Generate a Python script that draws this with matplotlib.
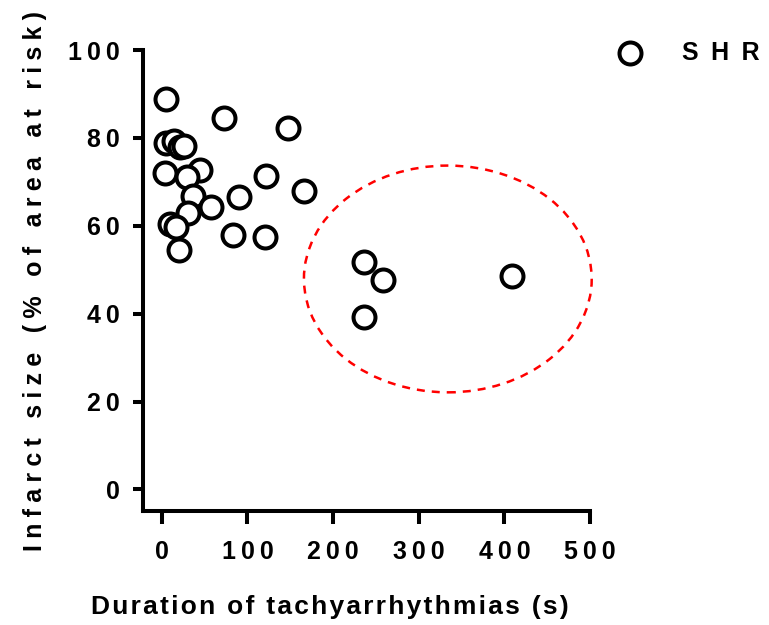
import matplotlib
matplotlib.use("Agg")
import matplotlib.pyplot as plt
from matplotlib.patches import Ellipse

plt.rcParams['font.family'] = ['Liberation Sans', 'DejaVu Sans']
plt.rcParams['font.weight'] = 'bold'

# Data
duration_s = [4.7, 72.6, 147.2, 4.7, 14.1, 21.8, 25.7, 3.5, 44.8, 29.6, 121.6,
              165.8, 37.0, 90.3, 57.6, 30.8, 9.1, 16.6, 83.1, 120.8, 20.5,
              236.6, 258.0, 236.6, 409.2]
infarct_pct = [88.8, 84.6, 82.3, 78.8, 79.4, 78.0, 78.2, 72.1, 72.7, 71.1, 71.3,
               67.9, 66.7, 66.5, 64.2, 62.9, 60.4, 59.7, 58.0, 57.5, 54.4,
               51.8, 47.7, 39.3, 48.6]
series_name = "SHR"
x_ticks = [0, 100, 200, 300, 400, 500]
y_ticks = [0, 20, 40, 60, 80, 100]
x_label = "Duration of tachyarrhythmias (s)"
y_label = "Infarct size (% of area at risk)"
# highlighted region (data coords): centre, width, height
ellipse_center = (334, 47.9)
ellipse_width = 336
ellipse_height = 51.6


def sp(s, gap='\u2009'):
    return gap.join(s)


FS = 18
fig = plt.figure(figsize=(7.69, 6.25), dpi=100)
ax = fig.add_axes([143 / 769, 1 - 511 / 625, (590 - 143) / 769, (511 - 50) / 625])

ax.scatter(duration_s, infarct_pct, s=250, facecolors='white', edgecolors='black',
           linewidths=2.9, zorder=3, clip_on=False, label=sp(series_name, '\u2002'))

ell = Ellipse(ellipse_center, ellipse_width, ellipse_height, fill=False,
              edgecolor='#ff0000', linewidth=1.8, linestyle=(0, (3.2, 2.8)),
              zorder=2, clip_on=False)
ax.add_patch(ell)

ax.set_xlim(-21.9, 500)
ax.set_ylim(-4.9, 100)
ax.set_xticks(x_ticks)
ax.set_yticks(y_ticks)
ax.set_xticklabels([sp(str(t)) for t in x_ticks], fontsize=FS, fontweight='bold')
ax.set_yticklabels([sp(str(t)) for t in y_ticks], fontsize=FS, fontweight='bold')

for s in ['top', 'right']:
    ax.spines[s].set_visible(False)
for s in ['left', 'bottom']:
    ax.spines[s].set_linewidth(2.9)
ax.tick_params(axis='x', length=9, width=2.9, pad=12)
ax.tick_params(axis='y', length=7, width=2.9, pad=10)

fig.text(330 / 769, 1 - 607 / 625, sp(x_label, '\u200a'), ha='center', va='center',
         fontsize=19, fontweight='bold')
fig.text(35 / 769, 1 - 281 / 625, sp(y_label, '\u2005'), ha='center', va='center',
         rotation=90, fontsize=FS, fontweight='bold')

leg = ax.legend(loc='center left', bbox_to_anchor=(611 / 769, 1 - 53 / 625),
                bbox_transform=fig.transFigure, frameon=False, fontsize=FS,
                handlelength=1.5, handletextpad=1.34, borderpad=0, borderaxespad=0)
for t in leg.get_texts():
    t.set_fontweight('bold')

fig.savefig('out.png', dpi=100)
